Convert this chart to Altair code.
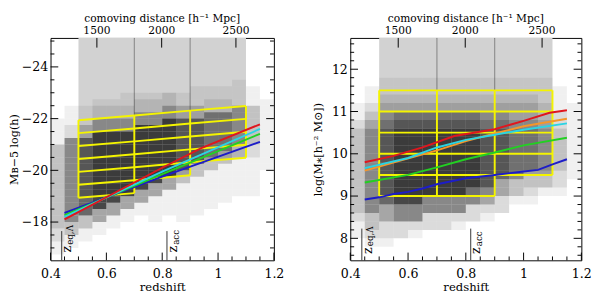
import altair as alt
import pandas as pd

FONT = "DejaVu Serif"
GRAY = "#d2d2d2"
SEP = "#808080"
YELLOW = "#f4f400"
RED = "#e0161e"
ORANGE = "#f5962a"
CYAN = "#2ad4e4"
GREEN = "#22d022"
BLUE = "#1c1cc8"

# ---------------- shared redshift axis ----------------
Z_DOMAIN = [0.4, 1.2]
Z_LABELLED = [0.4, 0.6, 0.8, 1.0, 1.2]
Z_SMALL = [0.45, 0.5, 0.55, 0.65, 0.7, 0.75, 0.85, 0.9, 0.95, 1.05, 1.1, 1.15]
COMOVING_Z = [0.566, 0.798, 1.064]
COMOVING_LABEL = ["1500", "2000", "2500"]
Z_EQ = 0.44
Z_ACC = 0.817
DENS_Z_EDGES = [0.40, 0.45, 0.50, 0.55, 0.60, 0.65, 0.70, 0.75, 0.80,
                0.85, 0.90, 0.95, 1.00, 1.05, 1.10, 1.15, 1.20]
BOX_Z = [0.5, 0.7, 0.9, 1.1]

# ---------------- left panel: M_B - 5 log h ----------------
MB_DOMAIN = [-25.12, -16.52]
MB_LABELLED = [-24, -22, -20, -18]
MB_SMALL = [-25.0, -24.5, -23.5, -23.0, -22.5, -21.5, -21.0, -20.5,
            -19.5, -19.0, -18.5, -17.5, -17.0]
MB_BOX_TOP = [-21.94, -22.12, -22.31, -22.49]
MB_BOX_STEP = 0.5
MB_BOX_N = [6, 5, 4]
MB_MARKER_TOP = -17.65
MB_LABEL_BASE = -16.82
MB_ROW_TOP = -25.0
MB_ROW_STEP = 0.25
# point density, one string per redshift column (top -> bottom), 0..9
MB_DENSITY = [
    "0000000000001111333333333333322110",
    "0000000000111225555555555555331100",
    "0000000000111336666666666663311000",
    "0000000001224477777777777744110000",
    "0000000001224477777777777441100000",
    "0000000011224477777777774411000000",
    "0000000012244777777777744110000000",
    "0000000012244777777777441111000000",
    "0000000022447777777774411110000000",
    "0000000011336666666633111111000000",
    "0000000111336666666331111110000000",
    "0000000112255555553311111100000000",
    "0000000112255555533111111000000000",
    "0000001111444444221111110000000000",
    "0000000111333333221111110000000000",
    "0000000001111111111100000000000000",
]
MB_BLUE_Z = [0.45, 0.8, 1.15]
MB_BLUE = [-18.35, -19.76, -21.1]
MB_GREEN_Z = [0.45, 0.8, 1.15]
MB_GREEN = [-18.27, -19.85, -21.41]
MB_CYAN_Z = [0.45, 0.8, 1.15]
MB_CYAN = [-18.2, -19.95, -21.6]
MB_RED_Z = [0.45, 0.8, 0.94, 1.15]
MB_RED = [-18.1, -20.1, -20.86, -21.78]

# ---------------- right panel: log stellar mass ----------------
MS_DOMAIN = [7.48, 12.74]
MS_LABELLED = [8, 9, 10, 11, 12]
MS_SMALL = [7.6, 7.8, 8.2, 8.4, 8.6, 8.8, 9.2, 9.4, 9.6, 9.8, 10.2, 10.4,
            10.6, 10.8, 11.2, 11.4, 11.6, 11.8, 12.2, 12.4, 12.6]
MS_BOX_TOP = [11.5, 11.5, 11.5, 11.5]
MS_BOX_STEP = -0.5
MS_BOX_N = [5, 5, 4]
MS_MARKER_TOP = 8.23
MS_LABEL_BASE = 7.63
MS_ROW_TOP = 12.8
MS_ROW_STEP = -0.2
MS_DENSITY = [
    "00000000112333333333321100",
    "00000011234555555555533210",
    "00000112345666666666442210",
    "00000112356777777777552200",
    "00000112356777777777552100",
    "00000112356777777775522000",
    "00000112356777777775522000",
    "00000112356777777775521000",
    "00000112356777777755220000",
    "00000112345666666644210000",
    "00000112345666666442200000",
    "00000112334555555331000000",
    "00000112334555553321000000",
    "00000111223444443310000000",
    "00000011122333332210000000",
    "00000000111111111000000000",
]
MS_BLUE_Z = [0.45, 0.5, 0.55, 0.6, 0.65, 0.7, 0.75, 0.8, 0.9, 1.0, 1.05, 1.1, 1.15]
MS_BLUE = [8.92, 8.97, 9.05, 9.1, 9.18, 9.28, 9.35, 9.42, 9.5, 9.58, 9.62, 9.75, 9.87]
MS_GREEN_Z = [0.45, 0.6, 0.7, 0.8, 0.9, 1.0, 1.15]
MS_GREEN = [9.32, 9.5, 9.68, 9.87, 10.03, 10.2, 10.38]
MS_CYAN_Z = [0.45, 0.6, 0.7, 0.8, 0.9, 1.0, 1.15]
MS_CYAN = [9.66, 9.9, 10.15, 10.33, 10.45, 10.57, 10.72]
MS_ORANGE_Z = [0.45, 0.7, 0.8, 0.9, 1.0, 1.15]
MS_ORANGE = [9.6, 10.08, 10.30, 10.48, 10.65, 10.83]
MS_RED_Z = [0.45, 0.55, 0.65, 0.76, 0.9, 1.0, 1.09, 1.15]
MS_RED = [9.80, 9.95, 10.15, 10.42, 10.58, 10.78, 10.97, 11.03]

W_LEFT, W_RIGHT, H = 231, 239, 230


def build_panel(W, ydom, reverse, y_lab, y_small, y_title, title_pad,
                box_top, box_n, box_step, dens_cols, row_top, row_step,
                series, marker_top, label_base):
    xs = alt.Scale(domain=Z_DOMAIN, nice=False, zero=False)
    ys = alt.Scale(domain=ydom, reverse=reverse, nice=False, zero=False)
    bottom_axis = alt.Axis(orient="bottom", values=Z_LABELLED, format="~g", title="redshift",
                           ticks=False, domain=False, grid=False, labelFlush=False, labelOverlap=False,
                           labelPadding=8, labelFontSize=13, titleFontSize=12, titlePadding=1)
    left_axis = alt.Axis(orient="left", values=y_lab, title=y_title, ticks=False, domain=False,
                         grid=False, labelFlush=False, labelOverlap=False, labelPadding=3,
                         labelFontSize=13, titleFontSize=11.5, titlePadding=title_pad)

    def X(f):
        return alt.X(f"{f}:Q", scale=xs, axis=bottom_axis)

    def Y(f):
        return alt.Y(f"{f}:Q", scale=ys, axis=left_axis, stack=None)

    layers = []

    # grey shaded volume-limited region
    rows = []
    for c in range(3):
        rows.append({"z": BOX_Z[c], "v": box_top[c] + box_n[c] * box_step, "col": c})
        rows.append({"z": BOX_Z[c + 1], "v": box_top[c + 1] + box_n[c] * box_step, "col": c})
    layers.append(alt.Chart(pd.DataFrame(rows)).mark_area(color=GRAY, clip=True).encode(
        x=X("z"), y=Y("v"), y2=alt.value(0), detail="col:N"))

    # darker separators above the boxes
    sep = pd.DataFrame({"z": BOX_Z[1:3], "v": box_top[1:3]})
    layers.append(alt.Chart(sep).mark_rule(color=SEP, strokeWidth=1).encode(
        x=X("z"), y=Y("v"), y2=alt.value(0)))

    # galaxy density cloud
    drows = []
    for j, col in enumerate(dens_cols):
        for i, ch in enumerate(col):
            d = int(ch)
            if d == 0:
                continue
            drows.append({"z0": DENS_Z_EDGES[j], "z1": DENS_Z_EDGES[j + 1],
                          "v0": row_top + i * row_step, "v1": row_top + (i + 1) * row_step,
                          "d": d})
    layers.append(alt.Chart(pd.DataFrame(drows)).mark_rect(color="black", clip=True, strokeWidth=0).encode(
        x=X("z0"), x2="z1:Q", y=Y("v0"), y2="v1:Q",
        opacity=alt.Opacity("d:Q", scale=alt.Scale(type="pow", exponent=1.3, domain=[0, 9], range=[0, 1]),
                            legend=None)))

    # yellow boxes
    seg = []
    for c in range(3):
        for k in range(box_n[c] + 1):
            seg.append({"z": BOX_Z[c], "z2": BOX_Z[c + 1],
                        "v": box_top[c] + k * box_step, "v2": box_top[c + 1] + k * box_step})
    for c in range(4):
        n_adj = max(box_n[max(c - 1, 0)], box_n[min(c, 2)])
        seg.append({"z": BOX_Z[c], "z2": BOX_Z[c], "v": box_top[c], "v2": box_top[c] + n_adj * box_step})
    layers.append(alt.Chart(pd.DataFrame(seg)).mark_rule(color=YELLOW, strokeWidth=2).encode(
        x=X("z"), x2="z2:Q", y=Y("v"), y2="v2:Q"))

    # coloured relations
    for zs, vs, color in series:
        layers.append(alt.Chart(pd.DataFrame({"z": zs, "v": vs})).mark_line(
            color=color, strokeWidth=2).encode(x=X("z"), y=Y("v")))

    # z_eq / z_acc markers
    mk = pd.DataFrame({"z": [Z_EQ, Z_ACC], "v": [marker_top, marker_top]})
    layers.append(alt.Chart(mk).mark_rule(color="#333333", strokeWidth=1).encode(
        x=X("z"), y=Y("v"), y2=alt.value(H)))
    lab_main = pd.DataFrame({"z": [Z_EQ, Z_ACC], "v": [label_base, label_base], "t": ["z", "z"]})
    lab_sub = pd.DataFrame({"z": [Z_EQ, Z_ACC], "v": [label_base, label_base], "t": ["eq,Λ", "acc"]})
    layers.append(alt.Chart(lab_main).mark_text(angle=270, align="left", baseline="alphabetic",
                                                dy=10, font=FONT, fontSize=13, color="black").encode(
        x=X("z"), y=Y("v"), text="t:N"))
    layers.append(alt.Chart(lab_sub).mark_text(angle=270, align="left", baseline="alphabetic",
                                               dx=8, dy=12, font=FONT, fontSize=9, color="black").encode(
        x=X("z"), y=Y("v"), text="t:N"))

    # ticks drawn inside the frame
    zl = pd.DataFrame({"z": Z_LABELLED})
    zsm = pd.DataFrame({"z": Z_SMALL})
    layers.append(alt.Chart(zl).mark_rule(color="black").encode(
        x=X("z"), y=alt.value(H), y2=alt.value(H - 8)))
    layers.append(alt.Chart(zsm).mark_rule(color="black").encode(
        x=X("z"), y=alt.value(H), y2=alt.value(H - 4)))
    cm = pd.DataFrame({"z": COMOVING_Z, "t": COMOVING_LABEL})
    layers.append(alt.Chart(cm).mark_rule(color="black").encode(
        x=X("z"), y=alt.value(0), y2=alt.value(10)))
    layers.append(alt.Chart(cm).mark_text(baseline="bottom", font=FONT, fontSize=11, color="black").encode(
        x=X("z"), y=alt.value(-2), text="t:N"))
    yl = pd.DataFrame({"v": y_lab})
    ysm = pd.DataFrame({"v": y_small})
    layers.append(alt.Chart(yl).mark_rule(color="black").encode(
        y=Y("v"), x=alt.value(0), x2=alt.value(8)))
    layers.append(alt.Chart(ysm).mark_rule(color="black").encode(
        y=Y("v"), x=alt.value(0), x2=alt.value(4)))
    layers.append(alt.Chart(yl).mark_rule(color="black").encode(
        y=Y("v"), x=alt.value(W), x2=alt.value(W - 8)))
    layers.append(alt.Chart(ysm).mark_rule(color="black").encode(
        y=Y("v"), x=alt.value(W), x2=alt.value(W - 4)))

    return alt.layer(*layers).properties(
        width=W, height=H,
        title=alt.TitleParams("comoving distance [h⁻¹ Mpc]", font=FONT, fontSize=11,
                              fontWeight="normal", anchor="middle", offset=1, color="black"))


left = build_panel(
    W_LEFT, MB_DOMAIN, True, MB_LABELLED, MB_SMALL, "Mʙ−5 log(h)", 2,
    MB_BOX_TOP, MB_BOX_N, MB_BOX_STEP, MB_DENSITY, MB_ROW_TOP, MB_ROW_STEP,
    [(MB_BLUE_Z, MB_BLUE, BLUE), (MB_GREEN_Z, MB_GREEN, GREEN),
     (MB_CYAN_Z, MB_CYAN, CYAN), (MB_RED_Z, MB_RED, RED)],
    MB_MARKER_TOP, MB_LABEL_BASE)

right = build_panel(
    W_RIGHT, MS_DOMAIN, False, MS_LABELLED, MS_SMALL, "log(M⁎[h⁻² M⊙])", 8,
    MS_BOX_TOP, MS_BOX_N, MS_BOX_STEP, MS_DENSITY, MS_ROW_TOP, MS_ROW_STEP,
    [(MS_BLUE_Z, MS_BLUE, BLUE), (MS_GREEN_Z, MS_GREEN, GREEN),
     (MS_ORANGE_Z, MS_ORANGE, ORANGE), (MS_CYAN_Z, MS_CYAN, CYAN),
     (MS_RED_Z, MS_RED, RED)],
    MS_MARKER_TOP, MS_LABEL_BASE)

chart = alt.hconcat(left, right, spacing=28).properties(
    padding=0, background="white"
).configure_view(
    stroke="black", strokeWidth=1
).configure_axis(
    labelFont=FONT, titleFont=FONT, labelColor="black", titleColor="black",
    titleFontWeight="normal"
).configure_text(font=FONT)

chart.save("out.html", embed_options={"renderer": "svg", "actions": False})
